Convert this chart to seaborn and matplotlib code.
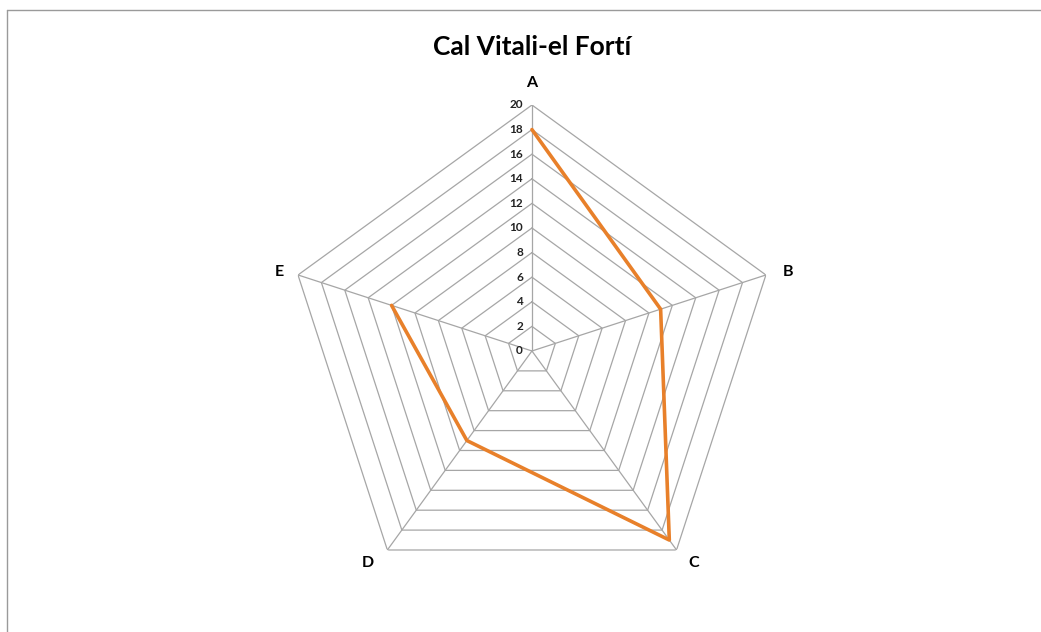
import numpy as np
import matplotlib.pyplot as plt
from matplotlib.lines import Line2D
import seaborn as sns

# dades del gràfic
categories = ["A", "B", "C", "D", "E"]
values = [18, 11, 19, 9, 12]
rings = [0, 2, 4, 6, 8, 10, 12, 14, 16, 18, 20]

sns.set_style("white")
plt.rcParams['font.family'] = ['Lato', 'DejaVu Sans']

n = len(categories)
angles = np.linspace(0, 2 * np.pi, n, endpoint=False)

fig = plt.figure(figsize=(10.41, 6.32), dpi=100)
ax = fig.add_axes([0.2747, 0.0554, 0.4726, 0.7785], projection='polar')
ax.set_theta_offset(np.pi / 2)
ax.set_theta_direction(-1)
ax.set_ylim(0, 20)
ax.grid(False)
ax.spines['polar'].set_visible(False)
ax.set_xticks([])
ax.set_yticks([])
ax.set_facecolor('none')

grid_col = '#a6a6a6'
closed = np.append(angles, angles[0])

# anells poligonals
for r in rings[1:]:
    ax.plot(closed, [r] * (n + 1), color=grid_col, lw=0.9, zorder=1)

# radis
for a in angles:
    ax.plot([a, a], [0, 20], color=grid_col, lw=0.9, zorder=1)

# sèrie
df_theta = list(closed)
df_vals = values + [values[0]]
sns.lineplot(x=df_theta, y=df_vals, sort=False, ax=ax, color='#E8802A',
             lw=2.6, zorder=3, legend=False)
ax.set_xlabel('')
ax.set_ylabel('')

# etiquetes de l'eix radial
for r in rings:
    ax.annotate(str(r), xy=(0, r), xytext=(-9, 0), textcoords='offset pixels',
                ha='right', va='center', fontsize=8.5, fontweight='bold',
                color='#222222', zorder=4)

# etiquetes de categories
offsets = [(0, 22), (17, 3), (12, -13), (-13, -13), (-14, 3)]
aligns = ['center', 'left', 'left', 'right', 'right']
for a, lab, off, ha in zip(angles, categories, offsets, aligns):
    ax.annotate(lab, xy=(a, 20), xytext=off, textcoords='offset pixels',
                ha=ha, va='center', fontsize=11.5, fontweight='bold', color='black')

fig.text(0.511, 1 - 47 / 632, "Cal Vitali-el Fortí", ha='center', va='center',
         fontsize=19, fontweight='bold', color='black')

# vora del gràfic
fig.add_artist(Line2D([7 / 1041, 1], [1 - 10 / 632, 1 - 10 / 632],
                      transform=fig.transFigure, color='#9a9a9a', lw=1))
fig.add_artist(Line2D([7 / 1041, 7 / 1041], [0, 1 - 10 / 632],
                      transform=fig.transFigure, color='#9a9a9a', lw=1))

fig.savefig('out.png', dpi=100, facecolor='white')
